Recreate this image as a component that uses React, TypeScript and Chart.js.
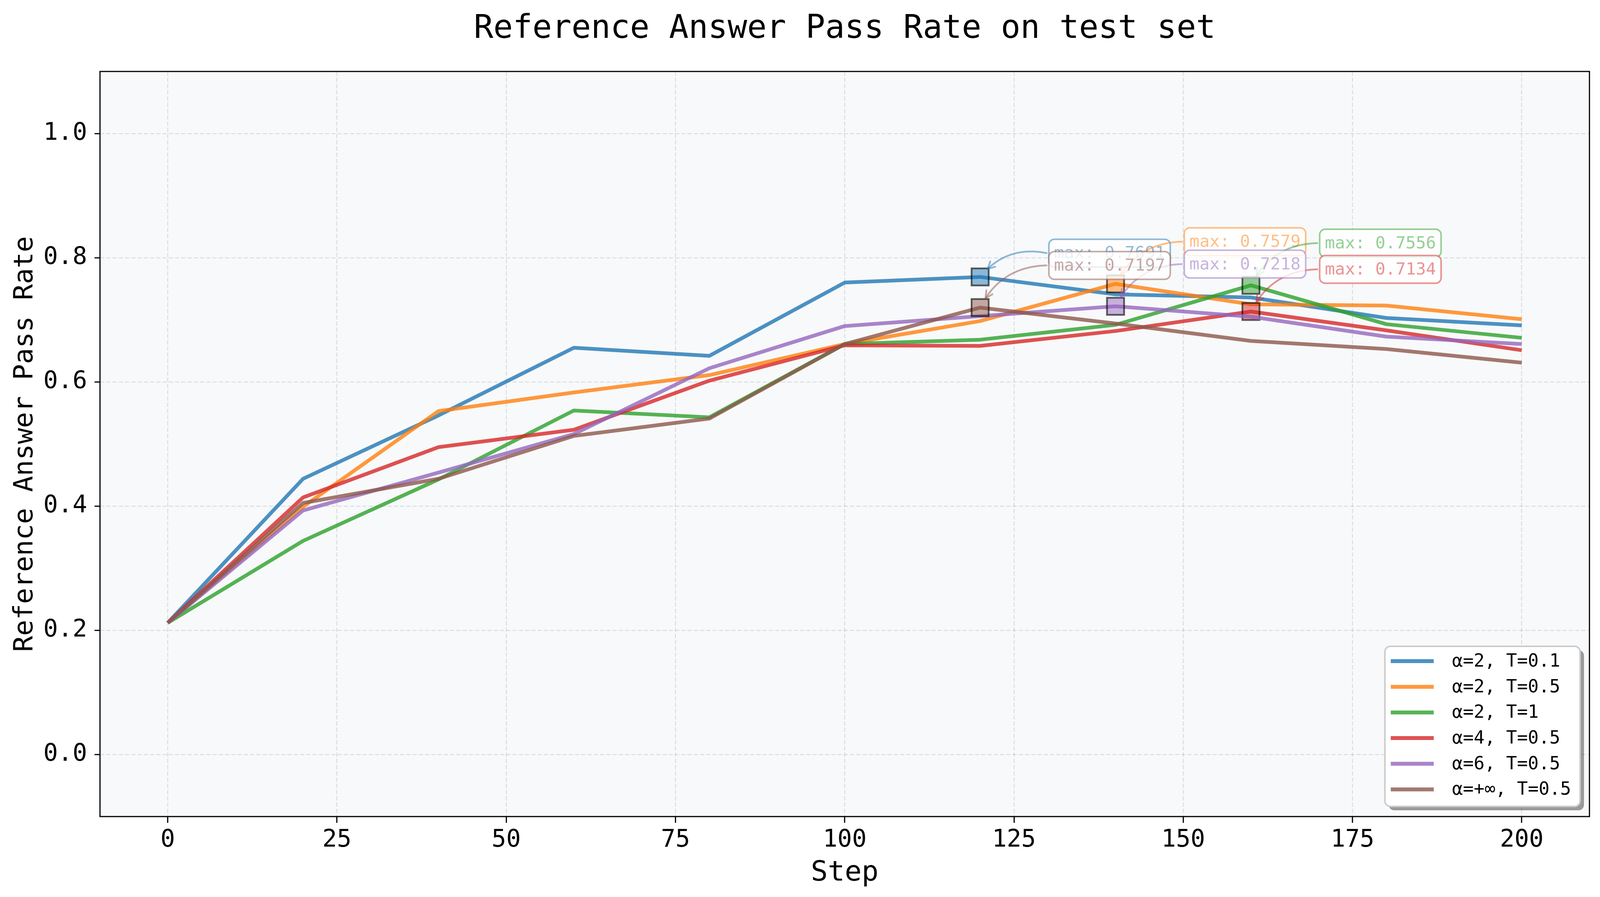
import React, { useEffect, useRef } from "react";
import { Chart, registerables } from "chart.js";

Chart.register(...registerables);

// ---------------- data ----------------
const STEPS = [0, 20, 40, 60, 80, 100, 120, 140, 160, 180, 200];

const A2_T01 = [0.212, 0.444, 0.546, 0.655, 0.642, 0.760, 0.7691, 0.741, 0.736, 0.703, 0.691];
const A2_T05 = [0.212, 0.399, 0.553, 0.583, 0.611, 0.661, 0.698, 0.7579, 0.725, 0.723, 0.701];
const A2_T1 = [0.212, 0.344, 0.443, 0.554, 0.543, 0.661, 0.668, 0.692, 0.7556, 0.693, 0.671];
const A4_T05 = [0.212, 0.414, 0.495, 0.523, 0.602, 0.659, 0.658, 0.682, 0.7134, 0.683, 0.651];
const A6_T05 = [0.212, 0.393, 0.454, 0.516, 0.622, 0.690, 0.706, 0.7218, 0.705, 0.673, 0.661];
const AINF_T05 = [0.212, 0.405, 0.444, 0.513, 0.541, 0.661, 0.7197, 0.694, 0.666, 0.653, 0.631];

const SERIES_VALUES = [A2_T01, A2_T05, A2_T1, A4_T05, A6_T05, AINF_T05];
const SERIES_LABELS = [
  "α=2, T=0.1",
  "α=2, T=0.5",
  "α=2, T=1",
  "α=4, T=0.5",
  "α=6, T=0.5",
  "α=+∞, T=0.5",
];

const X_TICKS = [0, 25, 50, 75, 100, 125, 150, 175, 200];
const Y_TICKS = [0, 0.2, 0.4, 0.6, 0.8, 1.0];

const TITLE = "Reference Answer Pass Rate on test set";
const X_TITLE = "Step";
const Y_TITLE = "Reference Answer Pass Rate";

// ---------------- style ----------------
const RGB = ["31,119,180", "255,127,14", "44,160,44", "214,39,40", "148,103,189", "140,86,75"];
const ANNOT_DY = [-61, -108, -108, -108, -108, -108];
const FONT_FAMILY = "'DejaVu Sans Mono', 'Noto Sans CJK SC', monospace";
const W = 4100;
const H = 2297;

function argmax(a: number[]) {
  let mi = 0;
  for (let i = 1; i < a.length; i++) if (a[i] > a[mi]) mi = i;
  return mi;
}

function roundRectPath(ctx: CanvasRenderingContext2D, x: number, y: number, w: number, h: number, r: number) {
  ctx.beginPath();
  ctx.moveTo(x + r, y);
  ctx.lineTo(x + w - r, y);
  ctx.arcTo(x + w, y, x + w, y + r, r);
  ctx.lineTo(x + w, y + h - r);
  ctx.arcTo(x + w, y + h, x + w - r, y + h, r);
  ctx.lineTo(x + r, y + h);
  ctx.arcTo(x, y + h, x, y + h - r, r);
  ctx.lineTo(x, y + r);
  ctx.arcTo(x, y, x + r, y, r);
  ctx.closePath();
}

const customPlugin = {
  id: "custom",
  beforeDraw(chart: any) {
    const { ctx, chartArea: a } = chart;
    ctx.save();
    ctx.fillStyle = "#ffffff";
    ctx.fillRect(0, 0, chart.width, chart.height);
    ctx.fillStyle = "#f8f9fa";
    ctx.fillRect(a.left, a.top, a.right - a.left, a.bottom - a.top);
    ctx.restore();
  },
  afterDatasetsDraw(chart: any) {
    const { ctx, chartArea: a } = chart;
    const xs = chart.scales.x;
    const ys = chart.scales.y;
    ctx.save();
    // frame
    ctx.strokeStyle = "#000";
    ctx.lineWidth = 3;
    ctx.strokeRect(a.left, a.top, a.right - a.left, a.bottom - a.top);

    // annotations
    SERIES_VALUES.forEach((vals, i) => {
      const mi = argmax(vals);
      const px = xs.getPixelForValue(STEPS[mi]);
      const py = ys.getPixelForValue(vals[mi]);
      const text = `max: ${vals[mi].toFixed(4)}`;
      ctx.font = `43px ${FONT_FAMILY}`;
      const tw = ctx.measureText(text).width;
      const bw = tw + 26;
      const bh = 71;
      const bx = px + 176;
      const bcy = py + ANNOT_DY[i];
      const by = bcy - bh / 2;

      // arrow (arc)
      const sx = bx - 6;
      const sy = bcy;
      const dx = px - sx;
      const dy = py - sy;
      const cx = (sx + px) / 2 - 0.3 * dy;
      const cy = (sy + py) / 2 + 0.3 * dx;
      const B = (t: number) => [
        (1 - t) * (1 - t) * sx + 2 * (1 - t) * t * cx + t * t * px,
        (1 - t) * (1 - t) * sy + 2 * (1 - t) * t * cy + t * t * py,
      ];
      let tEnd = 1;
      while (tEnd > 0.5) {
        const [qx, qy] = B(tEnd);
        if (Math.hypot(qx - px, qy - py) >= 28) break;
        tEnd -= 0.004;
      }
      ctx.strokeStyle = `rgba(${RGB[i]},0.5)`;
      ctx.lineWidth = 4.5;
      ctx.lineCap = "round";
      ctx.lineJoin = "round";
      ctx.beginPath();
      for (let t = 0; t <= tEnd + 1e-9; t += 0.01) {
        const [qx, qy] = B(Math.min(t, tEnd));
        if (t === 0) ctx.moveTo(qx, qy);
        else ctx.lineTo(qx, qy);
      }
      const [tx, ty] = B(tEnd);
      ctx.lineTo(tx, ty);
      ctx.stroke();
      // arrow head
      const gx = 2 * (1 - tEnd) * (cx - sx) + 2 * tEnd * (px - cx);
      const gy = 2 * (1 - tEnd) * (cy - sy) + 2 * tEnd * (py - cy);
      const gl = Math.hypot(gx, gy) || 1;
      const ux = gx / gl;
      const uy = gy / gl;
      const ang = (28 * Math.PI) / 180;
      const L = 20;
      ctx.beginPath();
      for (const s of [1, -1]) {
        const rx = ux * Math.cos(s * ang) - uy * Math.sin(s * ang);
        const ry = ux * Math.sin(s * ang) + uy * Math.cos(s * ang);
        ctx.moveTo(tx, ty);
        ctx.lineTo(tx - L * rx, ty - L * ry);
      }
      ctx.stroke();

      // box
      roundRectPath(ctx, bx, by, bw, bh, 14);
      ctx.fillStyle = "rgba(255,255,255,0.8)";
      ctx.fill();
      ctx.strokeStyle = `rgba(${RGB[i]},0.5)`;
      ctx.lineWidth = 4;
      ctx.stroke();
      ctx.fillStyle = `rgba(${RGB[i]},0.5)`;
      ctx.textAlign = "left";
      ctx.textBaseline = "middle";
      ctx.fillText(text, bx + 13, bcy + 2);
    });

    // legend
    ctx.font = `46px ${FONT_FAMILY}`;
    const maxW = Math.max(...SERIES_LABELS.map((l) => ctx.measureText(l).width));
    const lw = 172 + maxW + 23;
    const rowH = 65.7;
    const lh = 38 + rowH * (SERIES_LABELS.length - 1) + 43.5;
    const lx = a.right - 24 - lw;
    const ly = a.bottom - 26 - lh;
    roundRectPath(ctx, lx + 10, ly + 10, lw, lh, 14);
    ctx.fillStyle = "rgba(0,0,0,0.38)";
    ctx.fill();
    roundRectPath(ctx, lx, ly, lw, lh, 14);
    ctx.fillStyle = "#ffffff";
    ctx.fill();
    ctx.strokeStyle = "#cccccc";
    ctx.lineWidth = 4;
    ctx.stroke();
    SERIES_LABELS.forEach((lab, i) => {
      const cyy = ly + 38 + i * rowH;
      ctx.strokeStyle = `rgba(${RGB[i]},0.8)`;
      ctx.lineWidth = 10;
      ctx.lineCap = "butt";
      ctx.beginPath();
      ctx.moveTo(lx + 15, cyy);
      ctx.lineTo(lx + 125, cyy);
      ctx.stroke();
      ctx.fillStyle = "#000";
      ctx.textAlign = "left";
      ctx.textBaseline = "middle";
      ctx.fillText(lab, lx + 172, cyy + 2);
    });
    ctx.restore();
  },
  afterDraw(chart: any) {
    const { ctx, chartArea: a } = chart;
    const midX = (a.left + a.right) / 2;
    const midY = (a.top + a.bottom) / 2;
    ctx.save();
    ctx.fillStyle = "#000";
    ctx.textAlign = "center";
    ctx.textBaseline = "alphabetic";
    ctx.font = `83px ${FONT_FAMILY}`;
    ctx.fillText(TITLE, midX, 97);
    ctx.font = `72px ${FONT_FAMILY}`;
    ctx.fillText(X_TITLE, midX, 2255);
    ctx.font = `68px ${FONT_FAMILY}`;
    ctx.translate(83, midY);
    ctx.rotate(-Math.PI / 2);
    ctx.fillText(Y_TITLE, 0, 0);
    ctx.restore();
  },
};

export default function App() {
  const canvasRef = useRef<HTMLCanvasElement | null>(null);

  useEffect(() => {
    const canvas = canvasRef.current;
    if (!canvas) return;
    const tickFont = { family: FONT_FAMILY, size: 62 };
    const datasets = SERIES_VALUES.map((vals, i) => {
      const mi = argmax(vals);
      return {
        label: SERIES_LABELS[i],
        data: STEPS.map((s, j) => ({ x: s, y: vals[j] })),
        borderColor: `rgba(${RGB[i]},0.8)`,
        borderWidth: 9.5,
        borderJoinStyle: "round" as const,
        tension: 0,
        fill: false,
        order: SERIES_VALUES.length - i,
        pointStyle: "rect" as const,
        pointRadius: (c: any) => (c.dataIndex === mi ? 31 : 0),
        pointHoverRadius: (c: any) => (c.dataIndex === mi ? 31 : 0),
        pointBackgroundColor: `rgba(${RGB[i]},0.5)`,
        pointBorderColor: "rgba(0,0,0,0.6)",
        pointBorderWidth: 4.5,
      };
    });
    const chart = new Chart(canvas, {
      type: "line",
      data: { datasets },
      options: {
        animation: false,
        responsive: false,
        devicePixelRatio: 1,
        events: [],
        layout: { padding: { left: 0, right: 31, top: 183, bottom: 0 } },
        plugins: {
          legend: { display: false },
          tooltip: { enabled: false },
          title: { display: false },
        },
        scales: {
          x: {
            type: "linear",
            min: -10,
            max: 210,
            afterBuildTicks: (s: any) => {
              s.ticks = X_TICKS.map((v) => ({ value: v }));
            },
            afterFit: (s: any) => {
              s.height = 206;
            },
            ticks: {
              font: tickFont,
              color: "#000",
              padding: 8,
              maxRotation: 0,
              autoSkip: false,
              callback: (v: any) => String(v),
            },
            grid: {
              color: "rgba(0,0,0,0.11)",
              lineWidth: 2.5,
              drawTicks: true,
              tickLength: 16,
              tickColor: "#000",
              tickWidth: 3,
            },
            border: { display: false, dash: [11, 5] },
          },
          y: {
            type: "linear",
            min: -0.1,
            max: 1.1,
            afterBuildTicks: (s: any) => {
              s.ticks = Y_TICKS.map((v) => ({ value: v }));
            },
            afterFit: (s: any) => {
              s.width = 256;
            },
            ticks: {
              font: tickFont,
              color: "#000",
              padding: 19,
              autoSkip: false,
              callback: (v: any) => Number(v).toFixed(1),
            },
            grid: {
              color: "rgba(0,0,0,0.11)",
              lineWidth: 2.5,
              drawTicks: true,
              tickLength: 14,
              tickColor: "#000",
              tickWidth: 3,
            },
            border: { display: false, dash: [11, 5] },
          },
        },
      },
      plugins: [customPlugin],
    } as any);
    return () => chart.destroy();
  }, []);

  return (
    <div style={{ position: "absolute", left: 0, top: 0, width: W, height: H, background: "#fff" }}>
      <canvas ref={canvasRef} width={W} height={H} style={{ width: W, height: H, display: "block" }} />
    </div>
  );
}
